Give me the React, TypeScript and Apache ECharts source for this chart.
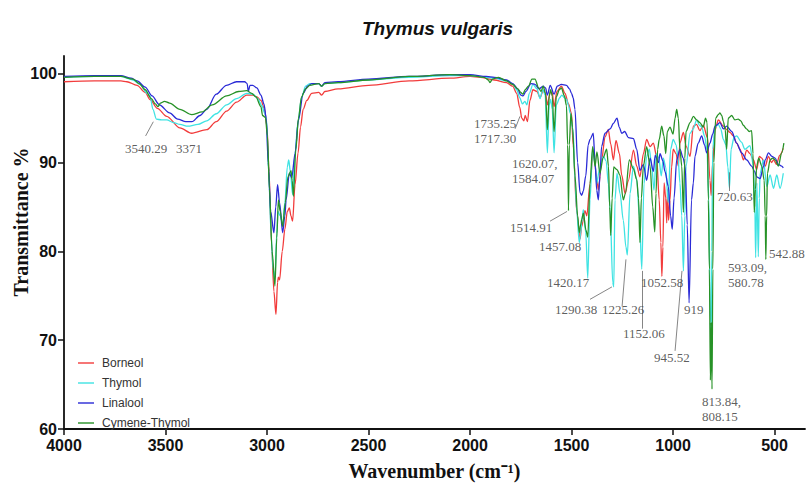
import React, { useEffect, useRef } from "react";
import * as echarts from "echarts";

// FTIR spectra: [wavenumber (cm-1), transmittance %]
const borneol: [number, number][] = [
  [4000, 99.1], [3850, 99.2], [3720, 99.2], [3690, 99.1], [3640, 98.7], [3600, 97.9], [3576, 97.1],
  [3540, 96.1], [3494, 95.2], [3429, 93.9], [3371, 93.3], [3297, 93.7], [3250, 94.6], [3199, 95.8],
  [3150, 96.8], [3100, 97.6], [3070, 97.6], [3050, 97.4], [3030, 97.0], [3012, 96.0], [3000, 94.0],
  [2990, 89.0], [2978, 81.0], [2966, 75.5], [2956, 72.9], [2948, 76.5], [2944, 77.1], [2938, 76.8],
  [2925, 80.0], [2912, 82.5], [2900, 84.5], [2890, 84.9], [2882, 84.0], [2874, 83.4], [2862, 87.5],
  [2847, 91.1], [2835, 94.0], [2822, 96.0], [2804, 97.0], [2780, 97.8], [2745, 97.9], [2731, 97.6],
  [2715, 98.0], [2650, 98.3], [2500, 98.7], [2300, 99.2], [2100, 99.5], [2000, 99.7], [1950, 99.6],
  [1880, 99.3], [1820, 99.0], [1790, 98.6], [1770, 97.8], [1755, 96.2], [1745, 95.0], [1735, 94.7],
  [1728, 95.3], [1717, 94.6], [1705, 97.0], [1690, 98.2], [1670, 98.0], [1655, 97.3], [1640, 98.1],
  [1628, 97.8], [1619, 96.5], [1605, 97.9], [1595, 97.9], [1586, 96.3], [1572, 98.0], [1550, 98.6],
  [1532, 97.8], [1515, 96.6], [1500, 95.5], [1492, 92.0], [1475, 84.6], [1458, 81.4], [1450, 82.8],
  [1440, 83.8], [1434, 84.6], [1425, 84.0], [1409, 87.6], [1393, 91.4], [1376, 88.4], [1368, 86.9],
  [1352, 90.2], [1335, 92.9], [1319, 93.7], [1307, 92.1], [1294, 90.3], [1281, 92.5], [1264, 91.0],
  [1253, 88.6], [1236, 86.5], [1220, 88.0], [1195, 91.4], [1179, 89.6], [1163, 88.4], [1146, 91.0],
  [1130, 92.6], [1113, 91.8], [1097, 92.2], [1081, 90.7], [1068, 85.8], [1060, 81.0], [1055, 77.2],
  [1050, 80.5], [1044, 87.7], [1036, 86.0], [1031, 83.2], [1027, 87.0], [1022, 83.5], [1015, 85.8],
  [1007, 89.5], [999, 91.5], [985, 91.0], [974, 89.6], [966, 92.2], [949, 93.4], [935, 91.8],
  [916, 90.7], [900, 94.1], [884, 94.3], [868, 93.6], [851, 94.2], [830, 92.8], [818, 88.0],
  [812, 86.3], [805, 90.0], [793, 93.7], [777, 94.8], [752, 94.1], [736, 93.7], [720, 93.4],
  [703, 93.0], [687, 92.2], [670, 91.5], [653, 90.3], [637, 91.4], [621, 91.0], [604, 90.3],
  [588, 89.2], [575, 90.7], [563, 90.5], [546, 89.6], [530, 90.7], [515, 90.0], [505, 90.3],
  [490, 89.8], [475, 90.8], [457, 91.6],
];

const thymol: [number, number][] = [
  [4000, 99.6], [3850, 99.7], [3720, 99.7], [3660, 99.3], [3626, 98.8], [3590, 97.8], [3576, 97.5],
  [3562, 96.0], [3545, 94.9], [3520, 94.8], [3494, 94.8], [3460, 94.5], [3429, 94.3], [3390, 94.1],
  [3340, 94.3], [3297, 94.7], [3250, 95.5], [3199, 96.5], [3150, 97.2], [3100, 97.8], [3070, 97.7],
  [3045, 97.2], [3025, 96.4], [3012, 95.6], [3002, 94.8], [2992, 89.0], [2980, 82.0], [2970, 78.0],
  [2961, 77.0], [2952, 82.0], [2946, 84.5], [2935, 84.0], [2923, 83.0], [2912, 85.5], [2900, 89.5],
  [2893, 90.3], [2885, 89.0], [2874, 86.4], [2862, 91.0], [2848, 94.5], [2830, 97.3], [2810, 98.6],
  [2790, 98.9], [2745, 98.9], [2731, 98.6], [2715, 98.9], [2650, 99.0], [2500, 99.3], [2300, 99.6],
  [2100, 99.8], [2000, 99.8], [1920, 99.6], [1880, 99.5], [1820, 99.2], [1790, 98.9], [1770, 98.2],
  [1755, 97.3], [1742, 96.6], [1730, 96.9], [1720, 96.5], [1708, 97.8], [1690, 98.8], [1670, 98.3],
  [1655, 97.2], [1642, 98.2], [1630, 97.6], [1619, 91.1], [1610, 96.5], [1603, 97.1], [1595, 96.0],
  [1586, 91.1], [1575, 96.5], [1558, 97.3], [1548, 97.6], [1535, 97.3], [1524, 97.1], [1515, 96.4],
  [1507, 95.6], [1492, 93.5], [1483, 88.0], [1475, 84.7], [1462, 81.0], [1455, 82.0], [1450, 83.2],
  [1442, 84.7], [1430, 82.1], [1420, 77.0], [1409, 85.8], [1396, 91.5], [1384, 89.9], [1376, 87.6],
  [1363, 89.2], [1343, 90.7], [1330, 90.2], [1318, 87.5], [1310, 84.7], [1297, 76.5], [1292, 76.0],
  [1286, 85.8], [1276, 88.8], [1261, 86.5], [1245, 83.5], [1232, 80.5], [1225, 79.6], [1212, 86.5],
  [1195, 89.6], [1179, 88.1], [1166, 84.0], [1154, 78.0], [1143, 87.6], [1130, 90.7], [1117, 91.5],
  [1105, 89.6], [1094, 86.9], [1082, 91.0], [1070, 90.5], [1058, 88.5], [1048, 90.5], [1036, 89.5],
  [1024, 85.5], [1012, 91.5], [999, 92.6], [985, 92.0], [975, 90.5], [966, 87.7], [957, 84.0],
  [949, 77.8], [942, 84.0], [936, 89.6], [916, 93.3], [900, 93.8], [884, 94.8], [870, 94.2],
  [859, 94.0], [845, 93.0], [833, 91.5], [824, 86.0], [816, 72.0], [813, 68.0], [809, 80.0],
  [805, 91.5], [793, 94.0], [777, 94.3], [765, 93.8], [752, 92.6], [740, 92.0], [730, 89.5],
  [722, 87.1], [714, 91.5], [700, 92.8], [687, 93.0], [663, 92.3], [646, 91.5], [621, 91.9],
  [604, 89.6], [597, 85.0], [593, 79.3], [587, 87.7], [580, 79.4], [575, 86.0], [571, 88.8],
  [555, 90.3], [538, 87.3], [522, 88.6], [505, 87.1], [489, 88.6], [473, 87.1], [457, 88.8],
];

const linalool: [number, number][] = [
  [4000, 99.7], [3850, 99.8], [3720, 99.8], [3670, 99.5], [3640, 99.2], [3600, 98.5], [3566, 97.5],
  [3530, 96.5], [3480, 95.6], [3440, 94.9], [3400, 94.6], [3370, 94.6], [3330, 95.3], [3297, 96.0],
  [3250, 97.7], [3200, 98.7], [3150, 99.1], [3110, 99.1], [3098, 98.9], [3092, 98.0], [3084, 98.7],
  [3070, 98.7], [3050, 98.4], [3030, 97.6], [3015, 96.6], [3004, 95.0], [2994, 90.0], [2982, 84.5],
  [2966, 82.1], [2957, 85.0], [2948, 87.5], [2938, 85.5], [2923, 82.1], [2912, 84.0], [2906, 85.8],
  [2890, 88.8], [2878, 88.3], [2862, 91.0], [2845, 94.8], [2822, 97.8], [2800, 98.6], [2780, 98.9],
  [2745, 98.9], [2731, 98.6], [2715, 99.0], [2650, 99.1], [2500, 99.4], [2300, 99.7], [2100, 99.9],
  [2000, 99.9], [1920, 99.7], [1880, 99.6], [1820, 99.3], [1790, 98.9], [1765, 98.3], [1750, 97.6],
  [1739, 97.5], [1725, 98.0], [1700, 98.9], [1680, 98.8], [1660, 98.3], [1640, 98.6], [1628, 98.4],
  [1619, 97.6], [1605, 98.7], [1586, 97.7], [1570, 98.6], [1550, 98.8], [1525, 98.7], [1510, 98.3],
  [1500, 97.8], [1492, 97.3], [1483, 96.0], [1470, 90.0], [1458, 86.6], [1450, 86.3], [1442, 86.8],
  [1430, 88.5], [1418, 92.0], [1409, 92.6], [1393, 93.3], [1384, 90.0], [1376, 86.9], [1368, 85.8],
  [1360, 88.5], [1352, 91.8], [1335, 93.3], [1310, 93.8], [1294, 94.4], [1276, 95.0], [1265, 94.0],
  [1253, 93.3], [1238, 93.5], [1220, 92.8], [1195, 92.7], [1179, 91.5], [1163, 89.1], [1146, 89.8],
  [1130, 88.0], [1113, 90.5], [1097, 89.0], [1088, 90.8], [1072, 90.0], [1064, 91.0], [1050, 90.2],
  [1040, 89.0], [1023, 87.3], [1012, 84.0], [1004, 82.5], [995, 86.0], [982, 90.3], [966, 91.5],
  [950, 90.5], [940, 89.5], [930, 83.0], [921, 74.2], [909, 85.8], [900, 87.7], [892, 90.7],
  [876, 92.2], [859, 93.0], [845, 92.0], [834, 91.1], [818, 92.2], [805, 93.2], [793, 94.1],
  [769, 94.5], [752, 93.8], [736, 94.1], [711, 93.5], [687, 92.2], [662, 91.1], [637, 90.3],
  [613, 89.6], [598, 89.0], [588, 88.4], [571, 88.2], [555, 89.5], [546, 90.3], [530, 91.1],
  [513, 90.7], [497, 90.5], [481, 89.8], [465, 89.6], [457, 89.4],
];

const cymeneThymol: [number, number][] = [
  [4000, 99.6], [3850, 99.7], [3720, 99.7], [3660, 99.4], [3630, 98.9], [3600, 98.2], [3570, 97.2],
  [3550, 96.6], [3537, 96.3], [3525, 96.7], [3505, 96.9], [3480, 96.7], [3429, 96.0], [3371, 95.4],
  [3320, 95.7], [3270, 96.5], [3199, 97.5], [3140, 98.0], [3100, 98.1], [3075, 97.8], [3055, 97.4],
  [3030, 96.3], [3022, 95.3], [3008, 95.1], [2998, 93.0], [2988, 87.0], [2975, 80.0], [2961, 76.1],
  [2952, 81.5], [2944, 85.8], [2935, 84.5], [2923, 82.8], [2910, 85.5], [2897, 88.4], [2882, 89.1],
  [2876, 88.0], [2870, 86.2], [2858, 91.5], [2845, 95.0], [2830, 97.4], [2810, 98.3], [2790, 98.7],
  [2745, 98.9], [2731, 98.6], [2715, 98.9], [2650, 99.0], [2500, 99.3], [2300, 99.7], [2100, 99.9],
  [2000, 99.8], [1930, 99.6], [1910, 99.3], [1902, 99.0], [1890, 99.4], [1860, 99.6], [1820, 99.2],
  [1790, 98.8], [1765, 98.3], [1750, 97.9], [1740, 97.7], [1728, 98.2], [1712, 98.6], [1695, 99.4],
  [1680, 99.4], [1662, 98.4], [1650, 98.0], [1640, 98.6], [1628, 97.8], [1619, 93.7], [1610, 97.5],
  [1603, 98.2], [1595, 97.5], [1586, 93.5], [1575, 97.4], [1560, 98.2], [1550, 98.4], [1535, 97.5],
  [1525, 96.4], [1519, 92.0], [1515, 84.6], [1511, 92.0], [1503, 95.5], [1495, 94.0], [1483, 88.5],
  [1470, 84.0], [1462, 82.1], [1455, 83.0], [1450, 83.6], [1442, 84.3], [1429, 82.4], [1420, 81.6],
  [1409, 87.6], [1396, 91.8], [1384, 89.6], [1375, 91.2], [1360, 88.8], [1345, 90.5], [1327, 91.5],
  [1318, 89.6], [1312, 85.0], [1307, 81.8], [1300, 86.0], [1292, 89.5], [1276, 89.2], [1262, 88.6],
  [1245, 85.8], [1235, 86.5], [1215, 90.3], [1195, 89.3], [1179, 88.1], [1170, 86.0], [1163, 81.0],
  [1156, 86.0], [1146, 89.6], [1130, 91.8], [1113, 89.6], [1100, 85.0], [1090, 82.2], [1084, 86.5],
  [1076, 91.5], [1068, 92.6], [1056, 94.1], [1045, 93.0], [1036, 91.0], [1028, 93.5], [1015, 94.0],
  [1000, 93.2], [990, 95.0], [982, 96.0], [974, 95.0], [966, 91.5], [957, 89.6], [949, 84.4],
  [942, 90.5], [936, 93.5], [916, 94.5], [900, 95.2], [884, 94.8], [868, 94.5], [851, 94.0],
  [840, 95.0], [832, 94.5], [826, 85.8], [821, 78.0], [816, 65.5], [812, 72.0], [808, 64.5],
  [804, 78.0], [799, 90.0], [790, 95.0], [777, 95.4], [769, 95.6], [760, 95.3], [752, 94.6],
  [743, 93.7], [736, 91.5], [728, 95.0], [711, 95.3], [695, 94.8], [679, 94.9], [666, 94.7],
  [654, 94.2], [638, 93.8], [625, 93.5], [613, 93.6], [606, 91.0], [600, 84.4], [594, 87.0],
  [588, 89.6], [578, 90.5], [563, 89.6], [551, 88.0], [546, 84.0], [543, 79.1], [539, 84.0],
  [535, 88.8], [522, 90.3], [510, 90.5], [497, 90.3], [481, 89.6], [465, 91.1], [454, 92.2],
];

const seriesNames = ["Borneol", "Thymol", "Linalool", "Cymene-Thymol"];
const seriesData = [borneol, thymol, linalool, cymeneThymol];
const seriesColors = ["#f23c3c", "#3fe3e3", "#2a2ad6", "#279227"];

const xTicks = [4000, 3500, 3000, 2500, 2000, 1500, 1000, 500];
const yTicks = [60, 70, 80, 90, 100];

// Peak assignments written beside the spectra
const peakTexts = [
  "3540.29", "3371", "1735.25\n1717.30", "1620.07,\n1584.07", "1514.91", "1457.08", "1420.17",
  "1290.38", "1225.26", "1152.06", "1052.58", "945.52", "919", "813.84,\n808.15", "720.63",
  "593.09,\n580.78", "542.88",
];

// Left-middle anchor of each peak text, in [wavenumber, transmittance]
const peakTextAnchors: [number, number][] = [
  [3700, 91.6], [3448, 91.6], [1980, 93.5], [1793, 89.0], [1803, 82.7], [1660, 80.6], [1621, 76.5],
  [1581, 73.5], [1350, 73.4], [1246, 70.7], [1158, 76.5], [1094, 68.1], [946, 73.5], [857, 62.2],
  [783, 86.2], [729, 77.3], [527, 79.8],
];

// Thin leader strokes from a text to its band
const leaderLines: [[number, number], [number, number]][] = [
  [[3598, 93.0], [3560, 94.6]],
  [[1778, 93.8], [1754, 95.2]],
  [[1606, 83.4], [1522, 84.5]],
  [[1409, 74.6], [1301, 76.0]],
  [[1251, 73.8], [1232, 79.1]],
  [[1152, 77.8], [1152, 71.3]],
  [[990, 68.8], [956, 77.8]],
  [[724, 88.9], [724, 86.8]],
];

export default function App() {
  const ref = useRef<HTMLDivElement>(null);

  useEffect(() => {
    if (!ref.current) return;
    const chart = echarts.init(ref.current, undefined, { renderer: "svg" });

    const lineSeries = seriesNames.map((name, i) => ({
      name,
      type: "line",
      data: seriesData[i],
      showSymbol: false,
      symbol: "none",
      smooth: 0.3,
      smoothMonotone: "x",
      color: seriesColors[i],
      lineStyle: { width: 1.3, color: seriesColors[i] },
      z: 2 + i,
    }));

    chart.setOption({
      animation: false,
      backgroundColor: "#ffffff",
      title: {
        text: "Thymus vulgaris",
        left: 357,
        top: 14,
        textStyle: {
          fontFamily: "Liberation Sans",
          fontStyle: "italic",
          fontWeight: "bold",
          fontSize: 19,
          color: "#111",
        },
      },
      grid: { left: 64, right: 2, top: 56, bottom: 52 },
      legend: {
        data: seriesNames,
        orient: "vertical",
        left: 78,
        top: 353,
        padding: 0,
        itemGap: 0,
        itemWidth: 16,
        itemHeight: 2,
        icon: "rect",
        itemStyle: { opacity: 0.7 },
        textStyle: {
          fontFamily: "Liberation Sans",
          fontSize: 12,
          color: "#333",
          lineHeight: 20,
          padding: [0, 0, 0, 3],
        },
      },
      xAxis: {
        type: "value",
        inverse: true,
        min: 350,
        max: 4000,
        name: "Wavenumber (cm⁻¹)",
        nameLocation: "middle",
        nameGap: 32,
        nameTextStyle: {
          fontFamily: "Liberation Serif",
          fontWeight: "bold",
          fontSize: 20,
          color: "#111",
        },
        splitLine: { show: false },
        axisLine: { lineStyle: { color: "#111", width: 1.8 } },
        axisTick: { customValues: xTicks, length: 6, lineStyle: { color: "#111", width: 1.5 } },
        axisLabel: {
          customValues: xTicks,
          formatter: (v: number) => String(v),
          margin: 8,
          fontFamily: "Liberation Sans",
          fontWeight: "bold",
          fontSize: 16,
          color: "#111",
        },
      },
      yAxis: {
        type: "value",
        min: 60,
        max: 102,
        splitLine: { show: false },
        axisLine: { show: true, lineStyle: { color: "#111", width: 1.8 } },
        axisTick: { show: true, customValues: yTicks, length: 6, lineStyle: { color: "#111", width: 1.5 } },
        axisLabel: {
          customValues: yTicks,
          formatter: (v: number) => String(v),
          margin: 7,
          fontFamily: "Liberation Sans",
          fontWeight: "bold",
          fontSize: 16,
          color: "#111",
        },
      },
      graphic: [
        {
          type: "text",
          x: 21,
          y: 222,
          rotation: Math.PI / 2,
          style: {
            text: "Transmittance %",
            fontFamily: "Liberation Serif",
            fontWeight: "bold",
            fontSize: 20,
            fill: "#111",
            align: "center",
            verticalAlign: "middle",
          },
        },
      ],
      series: [
        ...lineSeries,
        {
          name: "peaks",
          type: "scatter",
          silent: true,
          symbolSize: 0,
          z: 10,
          data: peakTexts.map((t, i) => ({ name: t, value: peakTextAnchors[i] })),
          label: {
            show: true,
            position: "right",
            distance: 0,
            formatter: (p: any) => p.name,
            fontFamily: "Liberation Serif",
            fontSize: 13,
            lineHeight: 15,
            color: "#333",
          },
          markLine: {
            silent: true,
            symbol: ["none", "none"],
            label: { show: false },
            lineStyle: { color: "#666", width: 0.8, type: "solid" },
            data: leaderLines.map(([a, b]) => [{ coord: a }, { coord: b }]),
          },
        },
      ],
    });

    return () => chart.dispose();
  }, []);

  return (
    <div
      ref={ref}
      style={{ position: "fixed", left: 0, top: 0, width: 807, height: 486, background: "#fff" }}
    />
  );
}
